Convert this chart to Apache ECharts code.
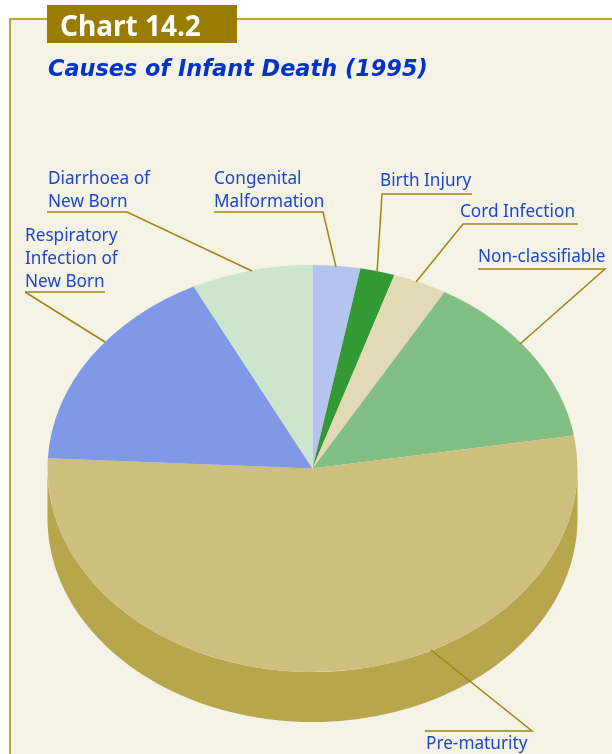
<!DOCTYPE html>
<html>
<head>
<meta charset="utf-8">
<style>html,body{margin:0;padding:0;background:#fff}#c{width:612px;height:754px}</style>
<script src="https://cdn.jsdelivr.net/npm/echarts@6/dist/echarts.min.js"></script>
</head>
<body>
<div id="c"></div>
<script>
// Data (share of infant deaths, %, estimated)
const categories = ['Congenital Malformation','Birth Injury','Cord Infection','Non-classifiable','Pre-maturity','Respiratory Infection of New Born','Diarrhoea of New Born'];
const values = [2.9, 2.1, 3.3, 14.1, 53.4, 16.8, 7.4];
const colors = ['#b5c3f0','#339933','#e2d9b5','#82bf82','#cdc07f','#7f99e6','#cde5cd'];
const rimColor = '#b7a64c';

// Layout
const CX = 312.5, CY = 468.5, RX = 265, RY = 203.5, DEPTH = 50;
const FONT = '"Noto Sans", sans-serif';
const labelBlue = '#1a47cc', leader = '#a08610';
const labels = [
  {t:'Diarrhoea of\nNew Born', x:48, y:168},
  {t:'Congenital\nMalformation', x:214, y:168},
  {t:'Birth Injury', x:380, y:170},
  {t:'Cord Infection', x:460, y:201},
  {t:'Non-classifiable', x:478, y:246},
  {t:'Respiratory\nInfection of\nNew Born', x:25, y:225},
  {t:'Pre-maturity', x:426, y:733}
];
const leaders = [
  [[47,212],[127,212],[252,271]],
  [[25,292],[105,292]],
  [[25,292],[105,342]],
  [[214,212],[323,212],[336,267]],
  [[472,194],[382,194],[377,273]],
  [[578,224],[463,224],[416,282]],
  [[478,269],[605,269],[520,344]],
  [[425,731],[532,731],[431,650]]
];

const total = values.reduce((a, b) => a + b, 0);
const table = [];
let running = 0;
values.forEach((v, i) => { table.push([v, running, i]); running += v; });
const toAngle = s => s / total * Math.PI * 2 - Math.PI / 2;

const chart = echarts.init(document.getElementById('c'), null, {renderer:'canvas'});
chart.setOption({
  animation:false,
  title:[
    {text:'Chart 14.2', left:55, top:9, z:8, textStyle:{color:'#fff', fontFamily:FONT, fontWeight:'bold', fontSize:28}},
    {text:'Causes of Infant Death (1995)', left:43, top:54, z:8, textStyle:{color:'#0033cc', fontFamily:'"DejaVu Sans", sans-serif', fontStyle:'italic', fontWeight:'bold', fontSize:22.4}}
  ],
  graphic:[
    {type:'rect', z:0, shape:{x:10,y:19,width:640,height:780}, style:{fill:'#f5f2e6', stroke:'#bca440', lineWidth:2}},
    {type:'rect', z:7, shape:{x:47,y:5,width:190,height:38}, style:{fill:'#9a7d00'}},
    ...leaders.map(p => ({type:'polyline', z:7, shape:{points:p}, style:{fill:null, stroke:leader, lineWidth:1.5}})),
    ...labels.map(l => ({type:'text', z:8, x:l.x, y:l.y, style:{text:l.t, fill:labelBlue, fontFamily:FONT, fontSize:17.2, lineHeight:23}}))
  ],
  series:[
    { // side wall of the disc
      type:'custom', coordinateSystem:'none', z:2, silent:true,
      data:table,
      renderItem(params, api){
        const s = Math.max(toAngle(api.value(1)), 0);
        const e = Math.min(toAngle(api.value(1) + api.value(0)), Math.PI);
        if (e <= s) return {type:'group', children:[]};
        const top = [], bot = [];
        for (let k = 0; k <= 90; k++) {
          const a = s + (e - s) * k / 90;
          const x = CX + RX * Math.cos(a), y = CY + RY * Math.sin(a);
          top.push([x, y]); bot.unshift([x, y + DEPTH]);
        }
        return {type:'polygon', shape:{points:top.concat(bot)}, style:{fill:rimColor}};
      }
    },
    { // top face: sectors squashed to an ellipse
      type:'custom', coordinateSystem:'none', z:3, silent:true,
      data:table,
      renderItem(params, api){
        const st = api.value(1), v = api.value(0);
        return {type:'group', x:CX, y:CY, scaleX:1, scaleY:RY/RX, children:[
          {type:'sector', shape:{cx:0, cy:0, r0:0, r:RX, startAngle:toAngle(st), endAngle:toAngle(st+v), clockwise:true},
           style:{fill:colors[api.value(2)]}}
        ]};
      }
    }
  ]
});
</script>
</body>
</html>
